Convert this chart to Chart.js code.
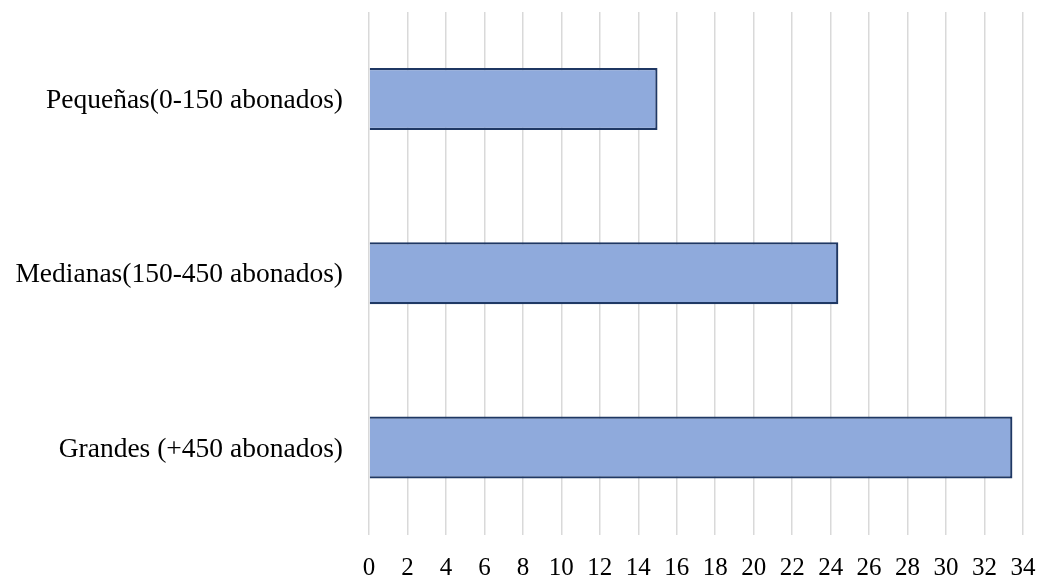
<!DOCTYPE html>
<html>
<head>
<meta charset="utf-8">
<script src="https://cdn.jsdelivr.net/npm/chart.js@4"></script>
<style>
  html, body { margin: 0; padding: 0; background: #ffffff; }
  #wrap { width: 1039px; height: 578px; position: relative; }
</style>
</head>
<body>
<div id="wrap"><canvas id="c" width="1039" height="578"></canvas></div>
<script>
// Tamaño de las cooperativas según número de abonados
const categories = [
  'Pequeñas(0-150 abonados)',
  'Medianas(150-450 abonados)',
  'Grandes (+450 abonados)'
];
const values = [15, 24.4, 33.45];
const axisMin = 0;
const axisMax = 34;
const axisStep = 2;

const serif = "'Liberation Serif', 'Times New Roman', 'DejaVu Serif', serif";

// fixed axis boxes so the plot area sits at x 369..1023, y 12..534.5
function noPad(s) {
  s.paddingTop = 0; s.paddingBottom = 0;
  s.paddingLeft = 0; s.paddingRight = 0;
}

new Chart(document.getElementById('c'), {
  type: 'bar',
  data: {
    labels: categories,
    datasets: [{
      data: values,
      backgroundColor: '#8FAADC',
      borderColor: '#1F3864',
      borderWidth: 2.25,
      borderSkipped: 'start',
      categoryPercentage: 1,
      barPercentage: 0.356
    }]
  },
  options: {
    indexAxis: 'y',
    responsive: false,
    animation: false,
    devicePixelRatio: 1,
    layout: { padding: { left: 0, right: 16, top: 12, bottom: 0 } },
    plugins: {
      legend: { display: false },
      tooltip: { enabled: false }
    },
    scales: {
      x: {
        min: axisMin,
        max: axisMax,
        border: { display: false },
        grid: { color: '#D9D9D9', lineWidth: 1.5, drawTicks: false },
        ticks: {
          stepSize: axisStep,
          padding: 19,
          maxRotation: 0,
          color: '#000000',
          font: { family: serif, size: 25 }
        },
        afterFit: (s) => { s.height = 43.5; noPad(s); }
      },
      y: {
        border: { display: false },
        grid: { display: false, drawTicks: false },
        ticks: {
          padding: 26,
          labelOffset: 2,
          color: '#000000',
          font: { family: serif, size: 27.5 }
        },
        afterFit: (s) => { s.width = 369; noPad(s); }
      }
    }
  }
});
</script>
</body>
</html>
